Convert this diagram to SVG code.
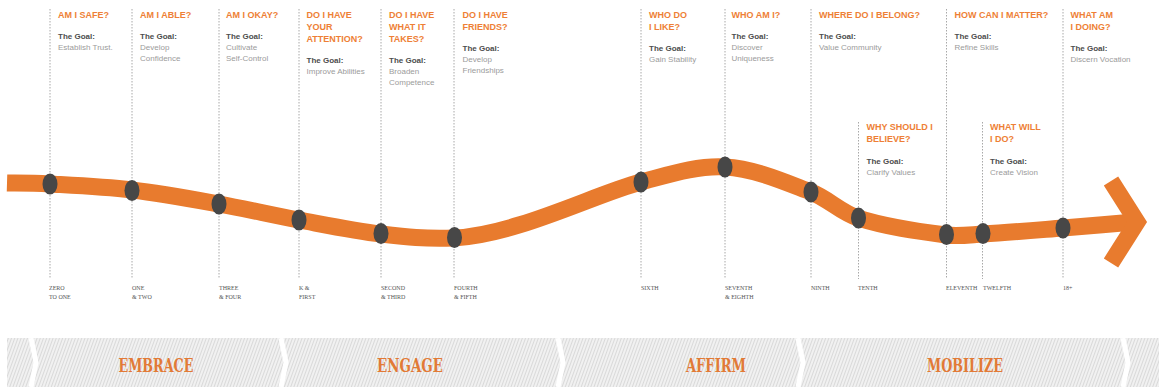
<svg xmlns="http://www.w3.org/2000/svg" width="1159" height="388" viewBox="0 0 1159 388">
<style>
.hd{font-family:"Liberation Sans Narrow","Liberation Sans",Arial,sans-serif;font-weight:bold;font-size:9px;fill:#EE7F36}
.gl{font-family:"Liberation Sans Narrow","Liberation Sans",Arial,sans-serif;font-weight:bold;font-size:8px;fill:#4d4d4d}
.bd{font-family:"Liberation Sans Narrow","Liberation Sans",Arial,sans-serif;font-size:8px;fill:#9b9b9b}
.lb{font-family:"Liberation Serif","DejaVu Serif",serif;font-size:6px;fill:#555}
.ph{font-family:"DejaVu Serif","Liberation Serif",serif;font-weight:bold;font-size:19px;fill:#E27A36;text-anchor:middle}
.vl{stroke:#a8a8a8;stroke-width:1;stroke-dasharray:1.5 1.5;fill:none}
.dot{fill:#474747}
.road{fill:none;stroke:#E87B2E;stroke-width:17}
.gap{fill:none;stroke:#fff;stroke-width:5}
</style>
<defs>
<pattern id="hatch" width="3" height="3" patternUnits="userSpaceOnUse" patternTransform="rotate(20)">
<rect width="3" height="3" fill="#f1f1f1"/>
<line x1="0.5" y1="0" x2="0.5" y2="3" stroke="#d9d9d9" stroke-width="1"/>
</pattern>
</defs>
<rect width="1159" height="388" fill="#fff"/>

<g id="guides">
<line class="vl" x1="50" y1="9" x2="50" y2="279"/>
<line class="vl" x1="132" y1="9" x2="132" y2="279"/>
<line class="vl" x1="219" y1="9" x2="219" y2="279"/>
<line class="vl" x1="299" y1="9" x2="299" y2="279"/>
<line class="vl" x1="381" y1="9" x2="381" y2="279"/>
<line class="vl" x1="454" y1="9" x2="454" y2="279"/>
<line class="vl" x1="641" y1="9" x2="641" y2="279"/>
<line class="vl" x1="725" y1="9" x2="725" y2="279"/>
<line class="vl" x1="811" y1="9" x2="811" y2="279"/>
<line class="vl" x1="858.5" y1="122" x2="858.5" y2="279"/>
<line class="vl" x1="946.5" y1="9" x2="946.5" y2="279"/>
<line class="vl" x1="982.5" y1="122" x2="982.5" y2="279"/>
<line class="vl" x1="1063" y1="9" x2="1063" y2="279"/>
</g>

<g id="connectors">
<path class="road" d="M7,183 C14.2,183.2 29.2,182.8 50,184 C70.8,185.2 103.8,186.7 132,190 C160.2,193.3 191.2,199 219,204 C246.8,209 272,215 299,220 C326,225 355.2,231 381,234 C406.8,237 424,239 454,238 C516,235 595.8,193.8 641,182 C668.1,174.9 697,165.35 725,167 C755,168.8 783,181.3 811,192 C827.5,198.3 841.1,212.6 858,218 C886.6,227.1 916.2,231.2 946,235 C958.2,236.6 970.7,234.7 983,234 C1009.6,232.4 1036.4,230.1 1063,228 C1087.9,226 1115,223.5 1140,221.5"/>
<polyline class="road" points="1111,181 1137,222 1111,263" stroke-linejoin="miter"/>
</g>

<g id="n1">
<ellipse class="dot" cx="50" cy="184" rx="7.5" ry="10.5"/>
<text class="hd" x="58" y="17.5">AM I SAFE?</text>
<text class="gl" x="58" y="38.5">The Goal:</text>
<text class="bd" x="58" y="49.5">Establish Trust.</text>
<text class="lb" x="49" y="289.5">ZERO</text>
<text class="lb" x="49" y="298.5">TO ONE</text>
</g>
<g id="n2">
<ellipse class="dot" cx="132" cy="190.5" rx="7.5" ry="10.5"/>
<text class="hd" x="140" y="17.5">AM I ABLE?</text>
<text class="gl" x="140" y="38.5">The Goal:</text>
<text class="bd" x="140" y="49.5">Develop</text>
<text class="bd" x="140" y="60.5">Confidence</text>
<text class="lb" x="132" y="289.5">ONE</text>
<text class="lb" x="132" y="298.5">&amp; TWO</text>
</g>
<g id="n3">
<ellipse class="dot" cx="219" cy="204" rx="7.5" ry="10.5"/>
<text class="hd" x="226" y="17.5">AM I OKAY?</text>
<text class="gl" x="226" y="38.5">The Goal:</text>
<text class="bd" x="226" y="49.5">Cultivate</text>
<text class="bd" x="226" y="60.5">Self-Control</text>
<text class="lb" x="219" y="289.5">THREE</text>
<text class="lb" x="219" y="298.5">&amp; FOUR</text>
</g>
<g id="n4">
<ellipse class="dot" cx="299" cy="220" rx="7.5" ry="10.5"/>
<text class="hd" x="306.5" y="17.5">DO I HAVE</text>
<text class="hd" x="306.5" y="29.5">YOUR</text>
<text class="hd" x="306.5" y="41.5">ATTENTION?</text>
<text class="gl" x="306.5" y="63">The Goal:</text>
<text class="bd" x="306.5" y="74">Improve Abilities</text>
<text class="lb" x="299" y="289.5">K &amp;</text>
<text class="lb" x="299" y="298.5">FIRST</text>
</g>
<g id="n5">
<ellipse class="dot" cx="381" cy="233.5" rx="7.5" ry="10.5"/>
<text class="hd" x="389" y="17.5">DO I HAVE</text>
<text class="hd" x="389" y="29.5">WHAT IT</text>
<text class="hd" x="389" y="41.5">TAKES?</text>
<text class="gl" x="389" y="63">The Goal:</text>
<text class="bd" x="389" y="74">Broaden</text>
<text class="bd" x="389" y="85">Competence</text>
<text class="lb" x="381" y="289.5">SECOND</text>
<text class="lb" x="381" y="298.5">&amp; THIRD</text>
</g>
<g id="n6">
<ellipse class="dot" cx="454.5" cy="237.5" rx="7.5" ry="10.5"/>
<text class="hd" x="462.5" y="17.5">DO I HAVE</text>
<text class="hd" x="462.5" y="29.5">FRIENDS?</text>
<text class="gl" x="462.5" y="51">The Goal:</text>
<text class="bd" x="462.5" y="62">Develop</text>
<text class="bd" x="462.5" y="73">Friendships</text>
<text class="lb" x="454" y="289.5">FOURTH</text>
<text class="lb" x="454" y="298.5">&amp; FIFTH</text>
</g>
<g id="n7">
<ellipse class="dot" cx="641" cy="182" rx="7.5" ry="10.5"/>
<text class="hd" x="649" y="17.5">WHO DO</text>
<text class="hd" x="649" y="29.5">I LIKE?</text>
<text class="gl" x="649" y="51">The Goal:</text>
<text class="bd" x="649" y="62">Gain Stability</text>
<text class="lb" x="641" y="289.5">SIXTH</text>
</g>
<g id="n8">
<ellipse class="dot" cx="725" cy="167" rx="7.5" ry="10.5"/>
<text class="hd" x="731.5" y="17.5">WHO AM I?</text>
<text class="gl" x="731.5" y="38.5">The Goal:</text>
<text class="bd" x="731.5" y="49.5">Discover</text>
<text class="bd" x="731.5" y="60.5">Uniqueness</text>
<text class="lb" x="725" y="289.5">SEVENTH</text>
<text class="lb" x="725" y="298.5">&amp; EIGHTH</text>
</g>
<g id="n9">
<ellipse class="dot" cx="811" cy="192" rx="7.5" ry="10.5"/>
<text class="hd" x="819" y="17.5">WHERE DO I BELONG?</text>
<text class="gl" x="819" y="38.5">The Goal:</text>
<text class="bd" x="819" y="49.5">Value Community</text>
<text class="lb" x="811" y="289.5">NINTH</text>
</g>
<g id="n10">
<ellipse class="dot" cx="858.5" cy="218" rx="7.5" ry="10.5"/>
<text class="hd" x="866.5" y="129.5">WHY SHOULD I</text>
<text class="hd" x="866.5" y="141.5">BELIEVE?</text>
<text class="gl" x="866.5" y="163.5">The Goal:</text>
<text class="bd" x="866.5" y="174.5">Clarify Values</text>
<text class="lb" x="858" y="289.5">TENTH</text>
</g>
<g id="n11">
<ellipse class="dot" cx="946.5" cy="234.5" rx="7.5" ry="10.5"/>
<text class="hd" x="954.5" y="17.5">HOW CAN I MATTER?</text>
<text class="gl" x="954.5" y="38.5">The Goal:</text>
<text class="bd" x="954.5" y="49.5">Refine Skills</text>
<text class="lb" x="946" y="289.5">ELEVENTH</text>
</g>
<g id="n12">
<ellipse class="dot" cx="983" cy="233.5" rx="7.5" ry="10.5"/>
<text class="hd" x="990" y="129.5">WHAT WILL</text>
<text class="hd" x="990" y="141.5">I DO?</text>
<text class="gl" x="990" y="163.5">The Goal:</text>
<text class="bd" x="990" y="174.5">Create Vision</text>
<text class="lb" x="983" y="289.5">TWELFTH</text>
</g>
<g id="n13">
<ellipse class="dot" cx="1063" cy="228" rx="7.5" ry="10.5"/>
<text class="hd" x="1070.5" y="17.5">WHAT AM</text>
<text class="hd" x="1070.5" y="29.5">I DOING?</text>
<text class="gl" x="1070.5" y="51">The Goal:</text>
<text class="bd" x="1070.5" y="62">Discern Vocation</text>
<text class="lb" x="1063" y="289.5">18+</text>
</g>

<g id="phases">
<rect x="7" y="338" width="1152" height="49" fill="url(#hatch)"/>
<polyline class="gap" points="31,338 36,362.5 31,387"/>
<polyline class="gap" points="281,338 286,362.5 281,387"/>
<polyline class="gap" points="558,338 563,362.5 558,387"/>
<polyline class="gap" points="798,338 803,362.5 798,387"/>
<polyline class="gap" points="1123,338 1128,362.5 1123,387"/>
<text class="ph" x="156" y="372" textLength="75" lengthAdjust="spacingAndGlyphs">EMBRACE</text>
<text class="ph" x="410" y="372" textLength="66" lengthAdjust="spacingAndGlyphs">ENGAGE</text>
<text class="ph" x="716" y="372" textLength="60" lengthAdjust="spacingAndGlyphs">AFFIRM</text>
<text class="ph" x="965" y="372" textLength="76" lengthAdjust="spacingAndGlyphs">MOBILIZE</text>
</g>
</svg>
